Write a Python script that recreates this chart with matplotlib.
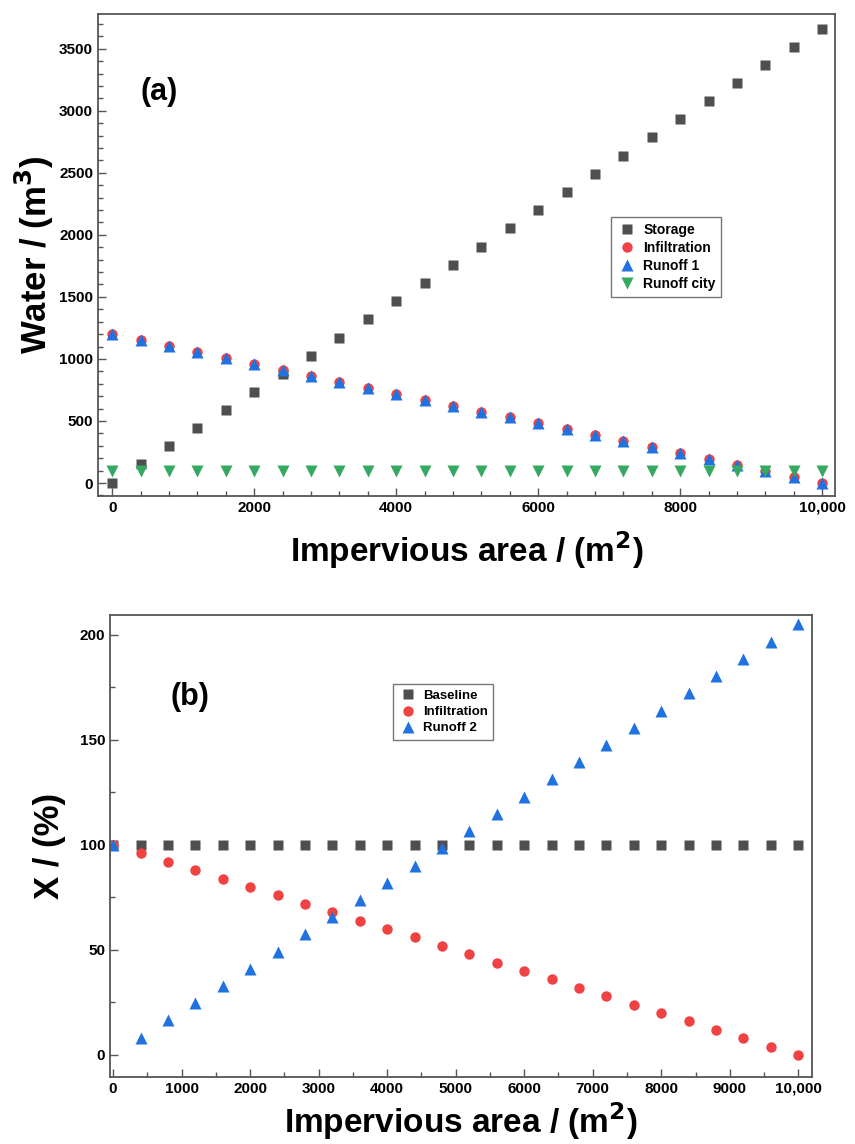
import matplotlib
matplotlib.use("Agg")
import matplotlib.pyplot as plt
from matplotlib.ticker import MultipleLocator, FixedLocator

plt.rcParams['font.family'] = ['Liberation Sans', 'DejaVu Sans']

# impervious area (m2), same for both panels
area = [0, 400, 800, 1200, 1600, 2000, 2400, 2800, 3200, 3600, 4000, 4400, 4800,
        5200, 5600, 6000, 6400, 6800, 7200, 7600, 8000, 8400, 8800, 9200, 9600, 10000]

# panel (a) water volumes (m3)
storage = [0, 150, 298, 442, 590, 735, 880, 1025, 1172, 1320, 1465, 1612, 1760,
           1905, 2052, 2198, 2345, 2490, 2638, 2785, 2930, 3078, 3222, 3370, 3515, 3662]
infiltration_a = [1200, 1152, 1104, 1056, 1008, 960, 912, 864, 816, 768, 720, 672, 624,
                  576, 528, 480, 432, 384, 336, 288, 240, 192, 144, 96, 48, 0]
runoff1 = [1200, 1152, 1104, 1056, 1008, 960, 912, 864, 816, 768, 720, 672, 624,
           576, 528, 480, 432, 384, 336, 288, 240, 192, 144, 96, 48, 0]
runoff_city = [100] * 26

# panel (b) relative values (%)
baseline = [100] * 26
infiltration_b = [100, 96, 92, 88, 84, 80, 76, 72, 68, 64, 60, 56, 52,
                  48, 44, 40, 36, 32, 28, 24, 20, 16, 12, 8, 4, 0]
runoff2 = [100, 8.2, 16.4, 24.6, 32.8, 41, 49.2, 57.4, 65.6, 73.8, 82, 90.2, 98.4,
           106.6, 114.8, 123, 131.2, 139.4, 147.6, 155.8, 164, 172.2, 180.4, 188.6, 196.8, 205]

c_gray = '#4f4f4f'
c_red = '#f04242'
c_blue = '#1f72e0'
c_green = '#35a862'


def style_axes(ax):
    for sp in ax.spines.values():
        sp.set_color('#555555')
        sp.set_linewidth(1.3)
    ax.tick_params(which='both', direction='in', color='#555555', width=1.0)
    ax.tick_params(which='major', length=6, labelsize=11)
    ax.tick_params(which='minor', length=3.5)
    for lab in ax.get_xticklabels() + ax.get_yticklabels():
        lab.set_fontweight('bold')


fig = plt.figure(figsize=(8.55, 11.44), dpi=100)

# ---- panel (a)
ax1 = fig.add_axes([0.1146, 0.5664, 0.862, 0.4214])
ms = 7
ax1.plot(area, storage, 's', color=c_gray, ms=ms, mec='none', label='Storage')
ax1.plot(area, infiltration_a, 'o', color=c_red, ms=ms + 0.5, mec='none', label='Infiltration')
ax1.plot(area, runoff1, '^', color=c_blue, ms=ms + 1, mec='none', label='Runoff 1')
ax1.plot(area, runoff_city, 'v', color=c_green, ms=ms + 1, mec='none', label='Runoff city')
ax1.set_xlim(-200, 10180)
ax1.set_ylim(-105, 3780)
ax1.xaxis.set_major_locator(FixedLocator([0, 2000, 4000, 6000, 8000, 10000]))
ax1.set_xticklabels(['0', '2000', '4000', '6000', '8000', '10,000'])
ax1.xaxis.set_minor_locator(MultipleLocator(400))
ax1.yaxis.set_major_locator(MultipleLocator(500))
ax1.yaxis.set_minor_locator(MultipleLocator(100))
style_axes(ax1)
ax1.set_xlabel('Impervious area / (m$^\\mathbf{2}$)', fontsize=24, fontweight='bold', labelpad=10)
ax1.set_ylabel('Water / (m$^\\mathbf{3}$)', fontsize=25, fontweight='bold', labelpad=2)
ax1.text(0.083, 0.838, '(a)', transform=ax1.transAxes, fontsize=22, fontweight='bold',
         ha='center', va='center')
leg1 = ax1.legend(loc='upper right', bbox_to_anchor=(0.855, 0.593), fancybox=False,
                  edgecolor='#555555', prop={'weight': 'bold', 'size': 10},
                  handletextpad=0.4, labelspacing=0.3, borderpad=0.4, handlelength=1.5)
leg1.get_frame().set_linewidth(1.0)

# ---- panel (b)
ax2 = fig.add_axes([0.1287, 0.0586, 0.821, 0.4038])
ax2.plot(area, baseline, 's', color=c_gray, ms=ms, mec='none', label='Baseline')
ax2.plot(area, infiltration_b, 'o', color=c_red, ms=ms + 0.5, mec='none', label='Infiltration')
ax2.plot(area, runoff2, '^', color=c_blue, ms=ms + 1, mec='none', label='Runoff 2')
ax2.set_xlim(-45, 10200)
ax2.set_ylim(-10.5, 209.5)
ax2.xaxis.set_major_locator(FixedLocator(list(range(0, 10001, 1000))))
ax2.set_xticklabels(['0', '1000', '2000', '3000', '4000', '5000', '6000', '7000',
                     '8000', '9000', '10,000'])
ax2.xaxis.set_minor_locator(MultipleLocator(500))
ax2.yaxis.set_major_locator(MultipleLocator(50))
ax2.yaxis.set_minor_locator(MultipleLocator(25))
style_axes(ax2)
ax2.set_xlabel('Impervious area / (m$^\\mathbf{2}$)', fontsize=24, fontweight='bold', labelpad=3)
ax2.set_ylabel('X / (%)', fontsize=25, fontweight='bold', labelpad=10)
ax2.text(0.114, 0.822, '(b)', transform=ax2.transAxes, fontsize=22, fontweight='bold',
         ha='center', va='center')
leg2 = ax2.legend(loc='upper left', bbox_to_anchor=(0.393, 0.864), fancybox=False,
                  edgecolor='#555555', prop={'weight': 'bold', 'size': 9.5},
                  handletextpad=0.4, labelspacing=0.3, borderpad=0.4, handlelength=1.5)
leg2.get_frame().set_linewidth(1.0)

fig.savefig('out.png', dpi=100)
